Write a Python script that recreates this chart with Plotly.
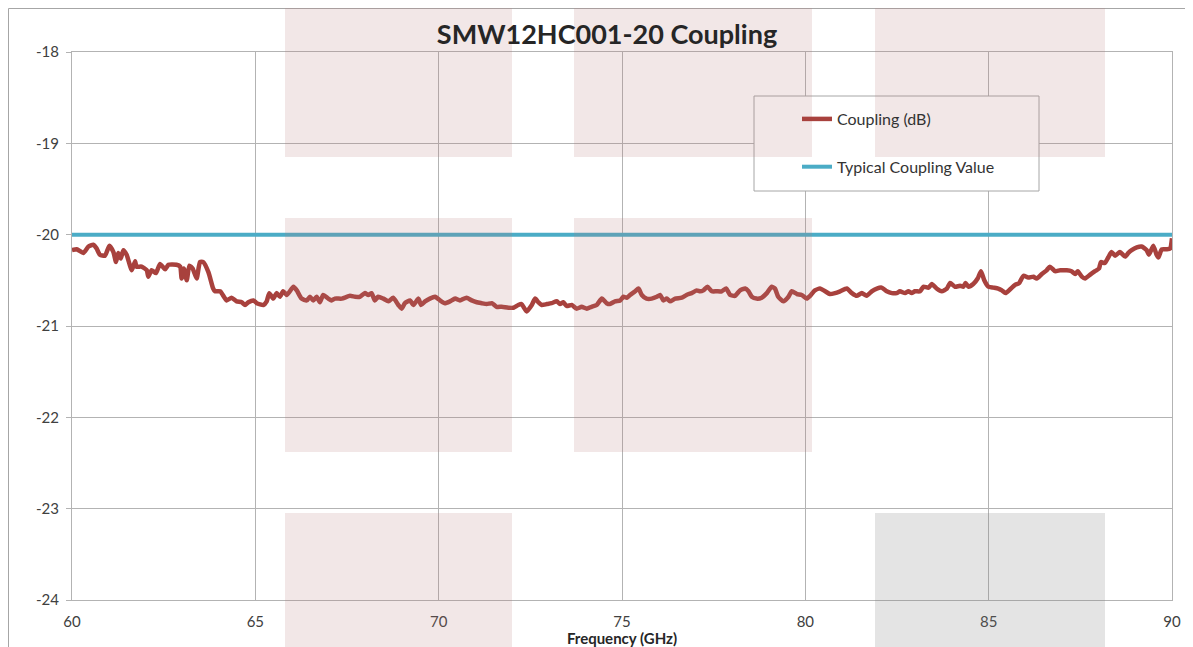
import plotly.graph_objects as go

# ---------------- data ----------------
freq_ghz = [
    60.00, 60.13, 60.31, 60.45, 60.58, 60.67, 60.76, 60.90, 61.02, 61.13,
    61.20, 61.26, 61.33, 61.40, 61.49, 61.63, 61.72, 61.76, 61.90, 62.04,
    62.08, 62.17, 62.29, 62.40, 62.54, 62.63, 62.85, 62.95, 62.99, 63.05,
    63.13, 63.20, 63.29, 63.40, 63.49, 63.58, 63.72, 63.85, 63.90, 64.04,
    64.22, 64.35, 64.49, 64.63, 64.72, 64.81, 64.95, 65.04, 65.22, 65.31,
    65.38, 65.49, 65.58, 65.67, 65.76, 65.86, 66.04, 66.13, 66.26, 66.40,
    66.49, 66.58, 66.67, 66.76, 66.85, 66.99, 67.08, 67.17, 67.36, 67.58,
    67.72, 67.85, 67.99, 68.08, 68.17, 68.26, 68.35, 68.49, 68.63, 68.76,
    68.90, 68.99, 69.08, 69.22, 69.31, 69.45, 69.52, 69.63, 69.76, 69.90,
    70.04, 70.17, 70.31, 70.45, 70.58, 70.76, 70.90, 71.04, 71.17, 71.31,
    71.45, 71.58, 71.72, 71.90, 72.04, 72.17, 72.26, 72.40, 72.54, 72.63,
    72.72, 72.81, 72.95, 73.08, 73.22, 73.31, 73.40, 73.49, 73.63, 73.76,
    73.90, 74.04, 74.17, 74.31, 74.45, 74.58, 74.67, 74.81, 74.95,
    75.04, 75.13, 75.22, 75.36, 75.45, 75.54, 75.67, 75.81, 75.95, 76.04,
    76.13, 76.22, 76.31, 76.45, 76.63, 76.76, 76.90, 77.04, 77.13, 77.22,
    77.33, 77.45, 77.58, 77.72, 77.84, 77.95, 78.08, 78.22, 78.36, 78.45,
    78.54, 78.67, 78.81, 78.95, 79.08, 79.17, 79.26, 79.40, 79.54, 79.63,
    79.77, 79.90, 80.04, 80.13, 80.26, 80.40, 80.54, 80.67, 80.81, 80.95,
    81.13, 81.27, 81.40, 81.54, 81.67, 81.81, 81.95, 82.08, 82.22, 82.36,
    82.49,
    82.58, 82.72, 82.81, 82.90, 82.99, 83.13, 83.22, 83.36, 83.45, 83.58,
    83.72, 83.86, 83.95, 84.08, 84.22, 84.31, 84.37, 84.45, 84.58, 84.70,
    84.79, 84.88, 84.99, 85.13, 85.26, 85.36, 85.46, 85.58, 85.72, 85.83,
    85.95, 86.08, 86.22, 86.31, 86.45, 86.58, 86.67, 86.81, 86.95, 87.13,
    87.26, 87.36, 87.43, 87.54, 87.63, 87.76, 87.90, 88.01, 88.06, 88.17,
    88.26, 88.35, 88.45, 88.58, 88.72, 88.81, 88.90, 89.04, 89.17, 89.31,
    89.37, 89.49, 89.58, 89.63, 89.72, 89.86, 89.95, 90.00,
]

coupling_db = [
    -20.17, -20.16, -20.20, -20.13, -20.11, -20.15, -20.22, -20.23, -20.12, -20.19,
    -20.30, -20.20, -20.26, -20.17, -20.22, -20.39, -20.29, -20.35, -20.35, -20.39,
    -20.46, -20.39, -20.42, -20.32, -20.38, -20.33, -20.33, -20.35, -20.48, -20.37,
    -20.50, -20.34, -20.37, -20.48, -20.30, -20.30, -20.41, -20.59, -20.62, -20.62,
    -20.72, -20.69, -20.73, -20.74, -20.77, -20.74, -20.72, -20.75, -20.77, -20.73,
    -20.64, -20.70, -20.64, -20.68, -20.62, -20.66, -20.57, -20.61, -20.70, -20.72,
    -20.68, -20.72, -20.68, -20.74, -20.66, -20.70, -20.72, -20.70, -20.70, -20.67,
    -20.68, -20.68, -20.64, -20.66, -20.64, -20.72, -20.68, -20.70, -20.73, -20.69,
    -20.77, -20.81, -20.75, -20.72, -20.77, -20.70, -20.77, -20.73, -20.70, -20.68,
    -20.72, -20.75, -20.73, -20.70, -20.72, -20.69, -20.72, -20.74, -20.75, -20.76,
    -20.75, -20.79, -20.79, -20.80, -20.80, -20.77, -20.76, -20.84, -20.77, -20.70,
    -20.74, -20.77, -20.76, -20.75, -20.73, -20.76, -20.74, -20.78, -20.77, -20.81,
    -20.79, -20.81, -20.79, -20.77, -20.70, -20.75, -20.76, -20.73, -20.72,
    -20.68, -20.69, -20.66, -20.62, -20.59, -20.66, -20.70, -20.70, -20.68, -20.66,
    -20.72, -20.70, -20.73, -20.70, -20.69, -20.66, -20.64, -20.61, -20.62, -20.61,
    -20.57, -20.62, -20.62, -20.62, -20.59, -20.66, -20.67, -20.61, -20.59, -20.62,
    -20.68, -20.70, -20.69, -20.64, -20.57, -20.59, -20.68, -20.73, -20.68, -20.62,
    -20.65, -20.66, -20.70, -20.67, -20.61, -20.59, -20.62, -20.65, -20.64, -20.62,
    -20.59, -20.64, -20.67, -20.64, -20.67, -20.62, -20.59, -20.58, -20.62, -20.64,
    -20.64,
    -20.62, -20.64, -20.62, -20.64, -20.62, -20.62, -20.57, -20.58, -20.54, -20.59,
    -20.62, -20.59, -20.53, -20.57, -20.56, -20.57, -20.53, -20.57, -20.54, -20.48,
    -20.40, -20.50, -20.57, -20.58, -20.59, -20.61, -20.64, -20.60, -20.55, -20.53,
    -20.45, -20.47, -20.46, -20.48, -20.43, -20.39, -20.35, -20.40, -20.39, -20.39,
    -20.40, -20.43, -20.40, -20.46, -20.48, -20.44, -20.40, -20.37, -20.30, -20.31,
    -20.25, -20.19, -20.23, -20.19, -20.24, -20.20, -20.17, -20.14, -20.13, -20.17,
    -20.22, -20.12, -20.22, -20.25, -20.16, -20.16, -20.15, -20.04,
]

typical_freq = [60, 90]
typical_db = [-20, -20]

x_ticks = [60, 65, 70, 75, 80, 85, 90]
y_ticks = [-24, -23, -22, -21, -20, -19, -18]
y_tick_labels = [str(v) for v in y_ticks]

assert len(freq_ghz) == len(coupling_db)

# ---------------- layout geometry (screen pixels) ----------------
OFF = 8                      # page body margin
W, H = 1193 - OFF, 647 - OFF  # figure size
L, R, T, B = 72, 1172, 52, 600   # plot area in screen pixels


def xp(px):
    return (px - L) / (R - L)


def yp(py):
    return (B - py) / (B - T)


FONT = "Lato, 'Open Sans', sans-serif"
GRID = "#b3b3b3"

fig = go.Figure()

fig.add_trace(go.Scatter(
    x=freq_ghz, y=coupling_db, mode="lines", name="Coupling (dB)",
    line=dict(color="#a8413d", width=4.5, shape="spline", smoothing=0.5),
    legendgroup="a",
))
fig.add_trace(go.Scatter(
    x=typical_freq, y=typical_db, mode="lines", name="Typical Coupling Value",
    line=dict(color="#4bacc6", width=4), legendgroup="b",
))

shapes = []
# outer chart border
shapes.append(dict(type="rect", xref="paper", yref="paper",
                   x0=xp(OFF + 0.5), x1=xp(1200), y0=yp(660), y1=yp(OFF + 0.5),
                   line=dict(color="#a6a6a6", width=1), fillcolor="rgba(0,0,0,0)",
                   layer="below"))
# legend box
shapes.append(dict(type="rect", xref="paper", yref="paper",
                   x0=xp(754), x1=xp(1039), y0=yp(191), y1=yp(96),
                   line=dict(color="#a6a6a6", width=1), fillcolor="white",
                   layer="above"))

# overlay (watermark) blocks
cols = [(285, 512), (574, 812), (875, 1105)]
rows = [(0, 157), (218, 452), (513, 660)]
pink = "rgba(185,120,120,0.18)"
gray = "rgba(128,128,128,0.21)"
blocks = [
    (0, 0, pink), (0, 1, pink), (0, 2, pink),
    (1, 0, pink), (1, 1, pink),
    (2, 0, pink), (2, 2, gray),
]
for r, c, col in blocks:
    x0, x1 = cols[c]
    y0, y1 = rows[r]
    shapes.append(dict(type="rect", xref="paper", yref="paper",
                       x0=xp(x0), x1=xp(x1), y0=yp(y1), y1=yp(y0),
                       line=dict(width=0), fillcolor=col, layer="above"))

fig.update_layout(
    width=W, height=H,
    margin=dict(l=L - OFF, r=W - (R - OFF), t=T - OFF, b=H - (B - OFF), pad=0,
                autoexpand=False),
    paper_bgcolor="white", plot_bgcolor="white",
    font=dict(family=FONT, size=15, color="#404040"),
    title=dict(text="<b>SMW12HC001-20 Coupling</b>", x=(607 - OFF) / W, xanchor="center",
               y=1 - (35 - OFF) / H, yanchor="middle",
               font=dict(family=FONT, size=27, color="#262626")),
    showlegend=True,
    legend=dict(x=xp(797), y=yp(102), xanchor="left", yanchor="top",
                bgcolor="rgba(0,0,0,0)", borderwidth=0,
                traceorder="grouped", tracegroupgap=24,
                font=dict(family=FONT, size=16, color="#333333")),
    shapes=shapes,
)

fig.update_xaxes(range=[60, 90], tickvals=x_ticks, showgrid=True, gridcolor=GRID, gridwidth=1,
                 showline=True, linecolor=GRID, linewidth=1, mirror=True, ticks="",
                 zeroline=False, tickfont=dict(size=15), ticklabelstandoff=8,
                 automargin=False,
                 title=dict(text="<b>Frequency (GHz)</b>", standoff=4,
                            font=dict(family=FONT, size=15, color="#262626")))
fig.update_yaxes(range=[-24, -18], tickvals=y_ticks, ticktext=y_tick_labels,
                 showgrid=True, gridcolor=GRID, gridwidth=1,
                 showline=True, linecolor=GRID, linewidth=1, mirror=True,
                 ticks="outside", ticklen=5, tickcolor=GRID, zeroline=False,
                 tickfont=dict(size=15), ticklabelstandoff=4, automargin=False)

fig.write_html("out.html")
